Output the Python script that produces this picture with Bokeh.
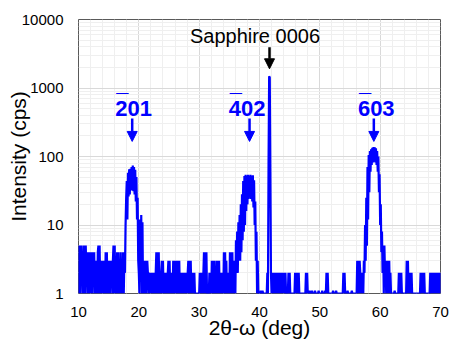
import numpy as np
from bokeh.plotting import figure
from bokeh.models import (ColumnDataSource, FixedTicker, SingleIntervalTicker,
                          NumeralTickFormatter, Label, Arrow, NormalHead)
from bokeh.embed import file_html
from bokeh.resources import INLINE

# ---------------- data ----------------
scan_start = 10.0   # deg
scan_step = 0.1     # deg

# intensity in cps, one value per 0.1 deg step
int_10_20 = [
    5, 1, 5, 1, 5, 2, 4, 1, 5, 1,
    5, 1, 5, 2, 4, 1, 4, 1, 4, 1,
    4, 1, 4, 1, 4, 2, 4, 1, 3, 1,
    3, 1, 4, 5, 1, 5, 1, 3, 1, 3,
    1, 3, 1, 3, 1, 4, 1, 4, 1, 3,
    1, 3, 1, 3, 2, 3, 1, 3, 5, 1,
    5, 1, 3, 1, 4, 1, 4, 1, 3, 1,
    4, 1, 3, 1, 4, 1, 3, 2, 10, 24,
    44, 12, 58, 26, 65, 28, 66, 32, 70, 32,
    74, 31, 70, 28, 64, 22, 50, 12, 25, 3,
]
int_20_30 = [
    2, 1, 12, 2, 14, 1, 11, 1, 3, 1,
    3, 1, 3, 1, 3, 2, 2, 1, 2, 1,
    2, 1, 2, 1, 2, 1, 2, 1, 2, 4,
    1, 4, 1, 4, 1, 2, 1, 2, 3, 1,
    3, 1, 2, 1, 2, 1, 2, 1, 2, 3,
    1, 3, 1, 2, 1, 2, 1, 3, 1, 3,
    1, 3, 1, 3, 1, 3, 1, 3, 1, 2,
    1, 2, 1, 2, 1, 2, 1, 2, 1, 2,
    1, 2, 3, 1, 3, 1, 3, 1, 2, 1,
    2, 1, 2, 1, 1, 1, 1, 1, 1, 1,
]
int_30_40 = [
    1, 2, 1, 2, 1, 2, 1, 2, 4, 1,
    4, 1, 4, 1, 1, 1, 1, 2, 1, 2,
    1, 3, 1, 3, 1, 3, 1, 2, 1, 3,
    1, 3, 1, 3, 1, 2, 1, 2, 1, 2,
    1, 4, 1, 4, 1, 3, 1, 2, 1, 2,
    1, 4, 1, 4, 1, 4, 1, 3, 1, 3,
    1, 6, 2, 8, 2, 11, 3, 14, 3, 20,
    4, 28, 6, 44, 8, 52, 10, 54, 16, 52,
    20, 54, 24, 52, 25, 54, 24, 52, 22, 53,
    18, 45, 10, 22, 3, 8, 1, 3, 1, 1,
]
int_40_50 = [
    1, 1, 1.1, 1, 1, 1.1, 1, 1, 1, 1,
    1, 1, 1, 2, 1, 80, 1480, 1420, 60, 2,
    1, 2, 1, 2, 1, 2, 1, 2, 1, 2,
    1, 2, 1, 2, 1, 2, 1, 2, 1, 2,
    1, 2, 1, 2, 1, 1, 1, 1, 2, 1,
    2, 1, 1, 1, 1, 1, 1, 1, 1, 2,
    1, 2, 1, 2, 1, 2, 1, 1, 1, 1,
    1, 1, 1, 1, 1, 1, 1, 2, 1, 2,
    1, 1, 1, 1.1, 1, 1, 1, 1.1, 1, 1,
    1, 1, 1.1, 1, 1, 1, 1, 1, 1.1, 1,
]
int_50_60 = [
    1, 1, 1, 1, 1.1, 1, 1, 1, 1, 1.1,
    1, 2, 1, 2, 1, 1, 1, 1, 1, 1,
    1, 1, 1.1, 1, 1, 1, 1, 1.1, 1, 1,
    1, 1, 1, 1, 1, 1, 1, 1, 1, 2,
    1, 2, 1, 1, 1, 1, 1.1, 1, 1, 1,
    1, 1, 1, 1.1, 1, 1, 1, 1, 1, 1,
    1, 1, 3, 1, 3, 1, 3, 2, 1, 2,
    1, 2, 1, 3, 2, 10, 3, 25, 5, 70,
    12, 105, 30, 120, 60, 128, 75, 134, 82, 137,
    84, 136, 82, 132, 75, 120, 60, 100, 30, 55,
]
int_60_70 = [
    10, 20, 4, 8, 2, 5, 1, 5, 2, 3,
    1, 3, 1, 3, 1, 3, 1, 2, 1, 1,
    1, 1, 1, 1, 1.1, 1, 1, 1, 1, 1,
    1, 2, 1, 2, 1, 2, 1, 1, 1, 1,
    1, 1, 1, 1, 3, 1, 3, 1, 2, 1,
    2, 1, 2, 1, 1, 1, 1, 1, 1, 1,
    1, 1, 1, 1, 1, 1, 1, 2, 1, 2,
    1, 2, 1, 2, 1, 1, 1, 1, 1, 1,
    1, 1, 1, 2, 1, 2, 1, 2, 1, 2,
    1, 2, 1, 2, 1, 2, 1, 2, 1, 2,
]
int_70 = [1]

# axis ticks and titles
x_tick_interval = 10
y_ticks = [1, 10, 100, 1000, 10000]
x_title = "2θ-ω (deg)"
y_title = "Intensity (cps)"

# peak annotations
peak_labels = ["201", "402", "603"]
peak_label_x = [19.15, 37.95, 59.35]
peak_arrow_x = [18.9, 38.35, 58.95]
peak_label_y = 500
peak_arrow_y = (360, 166)

sub_label = "Sapphire 0006"
sub_label_x = 39.25
sub_label_y = 5760
sub_arrow_x = 41.66
sub_arrow_y = (3944, 1906)

# ---------------- build ----------------
intensity = np.array(int_10_20 + int_20_30 + int_30_40 + int_40_50
                     + int_50_60 + int_60_70 + int_70, dtype=float)
two_theta = np.round(scan_start + scan_step * np.arange(len(intensity)), 2)
src = ColumnDataSource(dict(x=two_theta, y=intensity))

FONT = "Liberation Sans"
BLUE = "#0000ff"

p = figure(width=450, height=341, x_range=(10, 70), y_range=(1, 10000),
           y_axis_type="log", output_backend="svg", toolbar_location=None,
           min_border_left=78, min_border_right=10, min_border_top=19,
           min_border_bottom=48)
p.background_fill_color = "white"
p.border_fill_color = "white"
p.outline_line_color = "#595959"
p.outline_line_width = 1

xt = SingleIntervalTicker(interval=x_tick_interval, num_minor_ticks=5)
minor_y = [m * d for d in y_ticks[:-1] for m in range(2, 10)]
yt = FixedTicker(ticks=y_ticks, minor_ticks=minor_y)
p.xaxis.ticker = xt
p.xgrid.ticker = xt
p.yaxis.ticker = yt
p.ygrid.ticker = yt
p.yaxis.formatter = NumeralTickFormatter(format="0")

for g in (p.xgrid, p.ygrid):
    g.grid_line_color = "#d9d9d9"
    g.grid_line_width = 1
    g.minor_grid_line_color = "#efefef"
    g.minor_grid_line_width = 1

for ax in (p.xaxis, p.yaxis):
    ax.axis_line_color = None
    ax.major_tick_line_color = None
    ax.minor_tick_line_color = None
    ax.major_tick_out = 0
    ax.major_tick_in = 0
    ax.minor_tick_out = 0
    ax.minor_tick_in = 0
    ax.major_label_text_font = FONT
    ax.major_label_text_font_size = "15px"
    ax.major_label_text_color = "black"
    ax.axis_label_text_font = FONT
    ax.axis_label_text_font_size = "21px"
    ax.axis_label_text_font_style = "normal"
    ax.axis_label_text_color = "black"

p.xaxis.axis_label = x_title
p.yaxis.axis_label = y_title
p.xaxis.major_label_standoff = 13
p.xaxis.axis_label_standoff = -4
p.yaxis.major_label_standoff = 15
p.yaxis.axis_label_standoff = -11

p.line("x", "y", source=src, line_color=BLUE, line_width=2.2)

for lab, lx, ax_ in zip(peak_labels, peak_label_x, peak_arrow_x):
    fs = 22
    p.add_layout(Label(x=lx, y=peak_label_y, text=lab, text_font=FONT,
                       text_font_style="bold", text_font_size=f"{fs}px",
                       text_color=BLUE, text_align="center",
                       text_baseline="alphabetic"))
    p.add_layout(Label(x=lx, y=peak_label_y, text="\u00af", text_font=FONT,
                       text_font_style="bold", text_font_size=f"{fs}px",
                       text_color=BLUE, text_align="left",
                       text_baseline="alphabetic",
                       x_offset=-1.5 * 0.556 * fs + 1, y_offset=6))
    p.add_layout(Arrow(end=NormalHead(size=10, fill_color=BLUE, line_color=BLUE,
                                      line_width=1),
                       x_start=ax_, y_start=peak_arrow_y[0],
                       x_end=ax_, y_end=peak_arrow_y[1],
                       line_color=BLUE, line_width=2.5))

p.add_layout(Label(x=sub_label_x, y=sub_label_y, text=sub_label, text_font=FONT,
                   text_font_size="20px", text_color="black",
                   text_align="center", text_baseline="alphabetic"))
p.add_layout(Arrow(end=NormalHead(size=10, fill_color="black", line_color="black",
                                  line_width=1),
                   x_start=sub_arrow_x, y_start=sub_arrow_y[0],
                   x_end=sub_arrow_x, y_end=sub_arrow_y[1],
                   line_color="black", line_width=2.5))

open("out.html", "w").write(file_html(p, INLINE))
